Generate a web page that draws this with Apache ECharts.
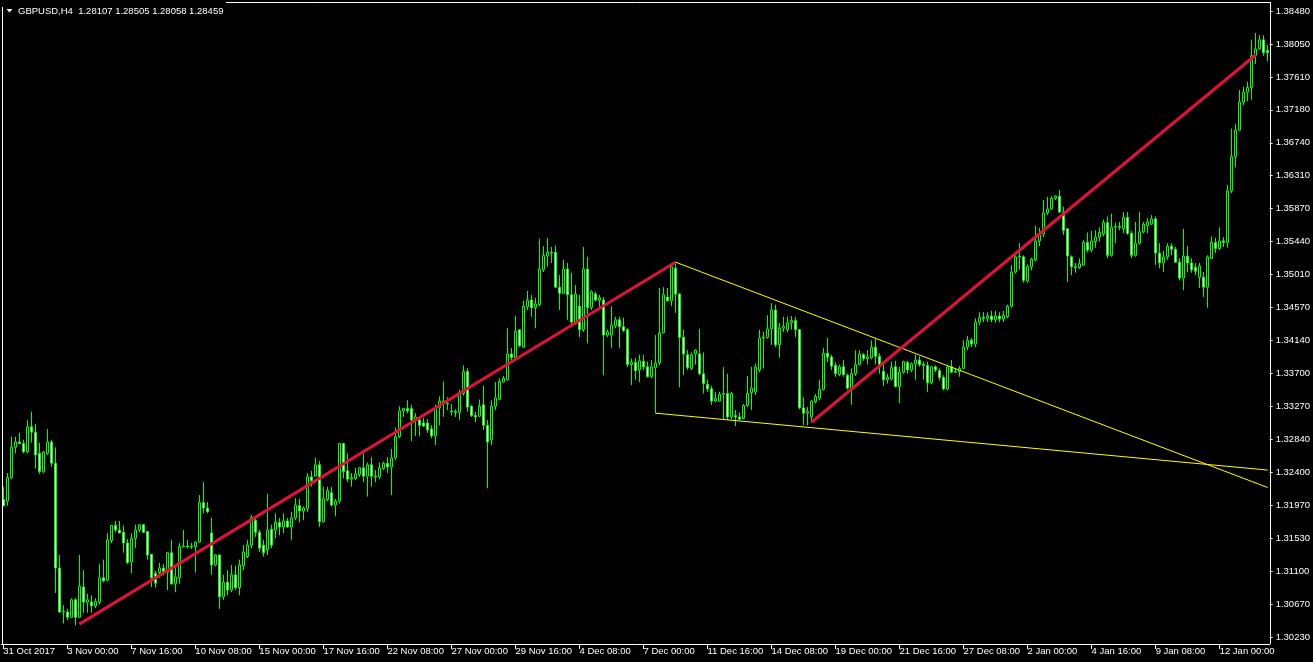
<!DOCTYPE html>
<html>
<head>
<meta charset="utf-8">
<script src="https://cdn.jsdelivr.net/npm/echarts/dist/echarts.min.js"></script>
<style>
html,body{margin:0;padding:0;background:#000;}
#chart{width:1313px;height:662px;}
</style>
</head>
<body>
<div id="chart"></div>
<script>
// ---- Data (GBPUSD H4) ----
const tradingDays = ['31 Oct','1 Nov','2 Nov','3 Nov','6 Nov','7 Nov','8 Nov','9 Nov','10 Nov','13 Nov','14 Nov','15 Nov','16 Nov','17 Nov',
  '20 Nov','21 Nov','22 Nov','23 Nov','24 Nov','27 Nov','28 Nov','29 Nov','30 Nov','1 Dec','4 Dec','5 Dec','6 Dec','7 Dec','8 Dec',
  '11 Dec','12 Dec','13 Dec','14 Dec','15 Dec','18 Dec','19 Dec','20 Dec','21 Dec','22 Dec','26 Dec','27 Dec','28 Dec','29 Dec',
  '2 Jan','3 Jan','4 Jan','5 Jan','8 Jan','9 Jan','10 Jan','11 Jan','12 Jan','15 Jan','16 Jan'];
const tickLabels = ['31 Oct 2017','3 Nov 00:00','7 Nov 16:00','10 Nov 08:00','15 Nov 00:00','17 Nov 16:00','22 Nov 08:00',
  '27 Nov 00:00','29 Nov 16:00','4 Dec 08:00','7 Dec 00:00','11 Dec 16:00','14 Dec 08:00','19 Dec 00:00','21 Dec 16:00',
  '27 Dec 08:00','2 Jan 00:00','4 Jan 16:00','9 Jan 08:00','12 Jan 00:00'];
const yLabels = ['1.30230','1.30670','1.31100','1.31530','1.31970','1.32400','1.32840','1.33270','1.33700','1.34140',
  '1.34570','1.35010','1.35440','1.35870','1.36310','1.36740','1.37180','1.37610','1.38050','1.38480'];
const titleText = 'GBPUSD,H4  1.28107 1.28505 1.28058 1.28459';

const opens = [
1.3204,1.3202,1.3233,1.3273,1.3280,1.3278,1.3267,1.3300,1.3293,1.3265,
1.3241,1.3265,1.3280,1.3252,1.3114,1.3056,1.3056,1.3049,1.3072,1.3049,
1.3089,1.3069,1.3069,1.3064,1.3069,1.3101,1.3098,1.3150,1.3170,1.3164,
1.3161,1.3147,1.3122,1.3153,1.3164,1.3171,1.3162,1.3132,1.3107,1.3108,
1.3114,1.3108,1.3134,1.3093,1.3101,1.3142,1.3143,1.3142,1.3142,1.3148,
1.3200,1.3193,1.3160,1.3118,1.3131,1.3076,1.3095,1.3085,1.3105,1.3088,
1.3117,1.3129,1.3144,1.3177,1.3161,1.3144,1.3138,1.3165,1.3164,1.3174,
1.3168,1.3176,1.3168,1.3180,1.3196,1.3189,1.3192,1.3234,1.3235,1.3250,
1.3175,1.3204,1.3213,1.3197,1.3202,1.3278,1.3242,1.3231,1.3232,1.3237,
1.3246,1.3235,1.3250,1.3235,1.3234,1.3245,1.3252,1.3247,1.3259,1.3287,
1.3321,1.3324,1.3324,1.3309,1.3309,1.3305,1.3305,1.3297,1.3288,1.3325,
1.3334,1.3330,1.3321,1.3320,1.3319,1.3344,1.3373,1.3327,1.3315,1.3314,
1.3329,1.3302,1.3283,1.3327,1.3336,1.3359,1.3362,1.3396,1.3391,1.3428,
1.3405,1.3458,1.3467,1.3457,1.3461,1.3507,1.3525,1.3530,1.3530,1.3484,
1.3476,1.3508,1.3474,1.3438,1.3459,1.3428,1.3508,1.3457,1.3475,1.3467,
1.3467,1.3421,1.3421,1.3433,1.3441,1.3432,1.3428,1.3382,1.3385,1.3375,
1.3386,1.3379,1.3366,1.3378,1.3384,1.3424,1.3471,1.3466,1.3509,1.3475,
1.3418,1.3395,1.3377,1.3396,1.3396,1.3370,1.3356,1.3350,1.3334,1.3334,
1.3343,1.3344,1.3313,1.3315,1.3313,1.3311,1.3328,1.3345,1.3346,1.3375,
1.3417,1.3418,1.3429,1.3454,1.3408,1.3430,1.3428,1.3437,1.3440,1.3428,
1.3325,1.3318,1.3313,1.3333,1.3338,1.3349,1.3397,1.3392,1.3381,1.3369,
1.3379,1.3368,1.3349,1.3370,1.3382,1.3395,1.3390,1.3391,1.3405,1.3393,
1.3373,1.3362,1.3363,1.3379,1.3353,1.3372,1.3385,1.3375,1.3383,1.3388,
1.3382,1.3381,1.3358,1.3379,1.3374,1.3365,1.3350,1.3379,1.3372,1.3373,
1.3377,1.3405,1.3414,1.3409,1.3438,1.3444,1.3443,1.3446,1.3441,1.3446,
1.3442,1.3445,1.3459,1.3504,1.3524,1.3524,1.3492,1.3511,1.3520,1.3545,
1.3554,1.3582,1.3587,1.3601,1.3604,1.3583,1.3561,1.3524,1.3511,1.3510,
1.3513,1.3543,1.3533,1.3544,1.3550,1.3554,1.3569,1.3526,1.3563,1.3564,
1.3561,1.3576,1.3555,1.3526,1.3542,1.3557,1.3565,1.3567,1.3574,1.3529,
1.3516,1.3524,1.3538,1.3534,1.3517,1.3496,1.3525,1.3516,1.3510,1.3497,
1.3497,1.3484,1.3522,1.3543,1.3535,1.3545,1.3543,1.3611,1.3656,1.3691,
1.3728,1.3741,1.3747,1.3789,1.3798,1.3810,1.3796];

const closes = [
1.3196,1.3233,1.3273,1.3280,1.3278,1.3267,1.3300,1.3293,1.3263,1.3241,
1.3267,1.3280,1.3252,1.3114,1.3056,1.3057,1.3049,1.3072,1.3049,1.3090,
1.3069,1.3072,1.3064,1.3070,1.3101,1.3097,1.3151,1.3170,1.3164,1.3160,
1.3147,1.3121,1.3153,1.3164,1.3171,1.3161,1.3131,1.3101,1.3094,1.3114,
1.3108,1.3134,1.3093,1.3102,1.3142,1.3143,1.3142,1.3143,1.3148,1.3200,
1.3193,1.3188,1.3118,1.3131,1.3076,1.3095,1.3085,1.3105,1.3088,1.3118,
1.3135,1.3144,1.3181,1.3161,1.3140,1.3134,1.3164,1.3144,1.3174,1.3168,
1.3176,1.3168,1.3180,1.3197,1.3189,1.3193,1.3234,1.3229,1.3250,1.3175,
1.3205,1.3216,1.3197,1.3202,1.3278,1.3241,1.3231,1.3233,1.3238,1.3246,
1.3235,1.3250,1.3235,1.3234,1.3246,1.3252,1.3247,1.3259,1.3287,1.3321,
1.3324,1.3321,1.3309,1.3313,1.3302,1.3301,1.3296,1.3288,1.3325,1.3334,
1.3330,1.3331,1.3320,1.3319,1.3344,1.3373,1.3326,1.3315,1.3313,1.3327,
1.3302,1.3280,1.3327,1.3338,1.3360,1.3364,1.3396,1.3391,1.3426,1.3407,
1.3459,1.3467,1.3457,1.3462,1.3508,1.3526,1.3530,1.3529,1.3484,1.3476,
1.3508,1.3474,1.3438,1.3475,1.3428,1.3508,1.3457,1.3478,1.3467,1.3470,
1.3421,1.3425,1.3434,1.3441,1.3432,1.3427,1.3382,1.3385,1.3374,1.3387,
1.3379,1.3366,1.3379,1.3384,1.3424,1.3474,1.3466,1.3511,1.3475,1.3418,
1.3396,1.3378,1.3395,1.3401,1.3370,1.3357,1.3350,1.3334,1.3337,1.3343,
1.3344,1.3313,1.3344,1.3313,1.3310,1.3328,1.3344,1.3351,1.3379,1.3417,
1.3418,1.3429,1.3454,1.3408,1.3430,1.3432,1.3437,1.3440,1.3428,1.3325,
1.3318,1.3320,1.3334,1.3340,1.3349,1.3397,1.3392,1.3380,1.3370,1.3379,
1.3369,1.3351,1.3370,1.3382,1.3396,1.3390,1.3392,1.3405,1.3393,1.3382,
1.3362,1.3365,1.3378,1.3353,1.3372,1.3386,1.3375,1.3383,1.3388,1.3382,
1.3381,1.3358,1.3379,1.3375,1.3365,1.3350,1.3379,1.3372,1.3373,1.3377,
1.3405,1.3414,1.3409,1.3438,1.3444,1.3443,1.3446,1.3441,1.3446,1.3442,
1.3447,1.3459,1.3504,1.3524,1.3525,1.3493,1.3511,1.3521,1.3545,1.3553,
1.3582,1.3587,1.3601,1.3604,1.3583,1.3559,1.3525,1.3511,1.3510,1.3515,
1.3543,1.3533,1.3545,1.3550,1.3556,1.3569,1.3526,1.3563,1.3564,1.3563,
1.3576,1.3555,1.3526,1.3542,1.3557,1.3567,1.3570,1.3574,1.3529,1.3516,
1.3524,1.3538,1.3534,1.3517,1.3496,1.3525,1.3516,1.3507,1.3505,1.3512,
1.3484,1.3524,1.3543,1.3535,1.3545,1.3543,1.3611,1.3656,1.3691,1.3728,
1.3741,1.3747,1.3789,1.3798,1.3810,1.3793,1.3793];

const lows = [
1.3195,1.3196,1.3231,1.3265,1.3277,1.3265,1.3265,1.3279,1.3245,1.3238,
1.3239,1.3263,1.3247,1.3081,1.3055,1.3041,1.3045,1.3048,1.3038,1.3048,
1.3055,1.3055,1.3055,1.3061,1.3066,1.3095,1.3097,1.3147,1.3161,1.3160,
1.3134,1.3119,1.3107,1.3140,1.3161,1.3160,1.3125,1.3089,1.3088,1.3101,
1.3104,1.3085,1.3092,1.3082,1.3093,1.3141,1.3140,1.3139,1.3108,1.3147,
1.3186,1.3186,1.3105,1.3116,1.3060,1.3072,1.3078,1.3082,1.3085,1.3078,
1.3111,1.3127,1.3140,1.3155,1.3135,1.3129,1.3131,1.3140,1.3153,1.3157,
1.3160,1.3167,1.3151,1.3177,1.3174,1.3177,1.3188,1.3221,1.3234,1.3168,
1.3174,1.3202,1.3195,1.3182,1.3199,1.3232,1.3227,1.3221,1.3230,1.3234,
1.3227,1.3208,1.3221,1.3227,1.3231,1.3243,1.3239,1.3210,1.3256,1.3285,
1.3313,1.3318,1.3281,1.3288,1.3288,1.3300,1.3292,1.3285,1.3276,1.3302,
1.3313,1.3322,1.3315,1.3313,1.3309,1.3341,1.3320,1.3313,1.3306,1.3313,
1.3296,1.3219,1.3276,1.3322,1.3335,1.3358,1.3361,1.3385,1.3388,1.3405,
1.3404,1.3454,1.3445,1.3430,1.3459,1.3504,1.3511,1.3516,1.3483,1.3454,
1.3475,1.3441,1.3432,1.3436,1.3418,1.3425,1.3410,1.3454,1.3465,1.3457,
1.3368,1.3418,1.3404,1.3430,1.3404,1.3425,1.3379,1.3355,1.3362,1.3359,
1.3375,1.3365,1.3364,1.3318,1.3381,1.3423,1.3465,1.3459,1.3450,1.3352,
1.3368,1.3375,1.3375,1.3382,1.3368,1.3344,1.3346,1.3329,1.3333,1.3333,
1.3310,1.3309,1.3310,1.3301,1.3309,1.3310,1.3326,1.3322,1.3342,1.3372,
1.3377,1.3416,1.3408,1.3405,1.3391,1.3425,1.3425,1.3428,1.3418,1.3323,
1.3302,1.3302,1.3306,1.3331,1.3335,1.3348,1.3385,1.3375,1.3366,1.3367,
1.3366,1.3349,1.3329,1.3367,1.3381,1.3387,1.3382,1.3389,1.3382,1.3370,
1.3354,1.3357,1.3361,1.3352,1.3331,1.3370,1.3370,1.3372,1.3362,1.3379,
1.3362,1.3346,1.3356,1.3372,1.3361,1.3348,1.3348,1.3371,1.3371,1.3366,
1.3376,1.3401,1.3405,1.3405,1.3434,1.3438,1.3438,1.3438,1.3437,1.3438,
1.3438,1.3443,1.3457,1.3502,1.3507,1.3490,1.3490,1.3506,1.3518,1.3538,
1.3550,1.3579,1.3586,1.3599,1.3582,1.3553,1.3491,1.3500,1.3503,1.3508,
1.3512,1.3530,1.3530,1.3536,1.3544,1.3551,1.3522,1.3524,1.3542,1.3559,
1.3555,1.3553,1.3522,1.3524,1.3540,1.3555,1.3555,1.3566,1.3513,1.3509,
1.3504,1.3520,1.3526,1.3516,1.3493,1.3480,1.3504,1.3503,1.3500,1.3483,
1.3471,1.3457,1.3521,1.3529,1.3533,1.3537,1.3536,1.3608,1.3642,1.3690,
1.3724,1.3729,1.3731,1.3778,1.3797,1.3789,1.3782];

const highs = [
1.3221,1.3239,1.3287,1.3287,1.3292,1.3283,1.3309,1.3320,1.3304,1.3279,
1.3267,1.3297,1.3283,1.3273,1.3131,1.3065,1.3060,1.3074,1.3074,1.3131,
1.3111,1.3080,1.3078,1.3074,1.3119,1.3125,1.3160,1.3170,1.3176,1.3176,
1.3170,1.3152,1.3160,1.3171,1.3172,1.3172,1.3162,1.3132,1.3110,1.3121,
1.3119,1.3135,1.3151,1.3115,1.3147,1.3164,1.3151,1.3147,1.3149,1.3210,
1.3227,1.3201,1.3180,1.3132,1.3132,1.3105,1.3111,1.3118,1.3117,1.3125,
1.3144,1.3151,1.3184,1.3181,1.3164,1.3151,1.3212,1.3171,1.3186,1.3180,
1.3186,1.3180,1.3188,1.3206,1.3205,1.3195,1.3239,1.3242,1.3259,1.3255,
1.3221,1.3221,1.3221,1.3205,1.3278,1.3279,1.3265,1.3239,1.3246,1.3247,
1.3265,1.3253,1.3260,1.3243,1.3253,1.3254,1.3260,1.3271,1.3299,1.3327,
1.3325,1.3335,1.3329,1.3318,1.3313,1.3312,1.3310,1.3302,1.3329,1.3340,
1.3360,1.3339,1.3330,1.3323,1.3349,1.3381,1.3377,1.3329,1.3320,1.3336,
1.3354,1.3309,1.3335,1.3359,1.3364,1.3367,1.3430,1.3404,1.3446,1.3428,
1.3466,1.3479,1.3474,1.3470,1.3548,1.3538,1.3549,1.3537,1.3539,1.3500,
1.3520,1.3516,1.3503,1.3487,1.3474,1.3537,1.3524,1.3480,1.3478,1.3474,
1.3471,1.3428,1.3459,1.3445,1.3445,1.3444,1.3430,1.3390,1.3391,1.3395,
1.3395,1.3386,1.3388,1.3421,1.3483,1.3484,1.3483,1.3514,1.3517,1.3476,
1.3428,1.3401,1.3398,1.3402,1.3429,1.3398,1.3362,1.3354,1.3346,1.3346,
1.3379,1.3370,1.3346,1.3322,1.3319,1.3330,1.3367,1.3379,1.3383,1.3428,
1.3425,1.3447,1.3463,1.3461,1.3437,1.3445,1.3445,1.3446,1.3445,1.3429,
1.3339,1.3326,1.3335,1.3343,1.3362,1.3404,1.3417,1.3395,1.3385,1.3382,
1.3388,1.3370,1.3377,1.3401,1.3401,1.3397,1.3401,1.3414,1.3417,1.3397,
1.3386,1.3370,1.3386,1.3387,1.3379,1.3387,1.3387,1.3385,1.3395,1.3393,
1.3386,1.3386,1.3380,1.3381,1.3377,1.3368,1.3381,1.3388,1.3377,1.3380,
1.3414,1.3420,1.3417,1.3443,1.3451,1.3451,1.3451,1.3453,1.3453,1.3451,
1.3453,1.3461,1.3513,1.3529,1.3542,1.3526,1.3514,1.3523,1.3565,1.3562,
1.3599,1.3603,1.3604,1.3605,1.3612,1.3590,1.3562,1.3526,1.3516,1.3522,
1.3546,1.3556,1.3558,1.3559,1.3563,1.3573,1.3577,1.3581,1.3569,1.3570,
1.3583,1.3583,1.3558,1.3570,1.3583,1.3570,1.3575,1.3579,1.3577,1.3542,
1.3532,1.3542,1.3542,1.3537,1.3522,1.3561,1.3538,1.3522,1.3516,1.3516,
1.3504,1.3526,1.3551,1.3549,1.3563,1.3550,1.3619,1.3693,1.3699,1.3744,
1.3748,1.3755,1.3810,1.3819,1.3816,1.3816,1.3803];

// trend lines: [candle index, price]
const redLine1 = [[19, 1.3040], [168, 1.3517]];
const redLine2 = [[202, 1.3306], [313, 1.3790]];
const yellowLine1 = [[168, 1.3517], [316, 1.3220]];
const yellowLine2 = [[163, 1.3318], [316, 1.3243]];

// ---- Build categories (H4 bars, first day starts 08:00) ----
const hours = ['00:00','04:00','08:00','12:00','16:00','20:00'];
const categories = [];
tradingDays.forEach((d, di) => {
  hours.forEach((h, hi) => {
    if (di === 0 && hi < 2) return;
    categories.push(d + ' ' + h);
  });
});
categories.length = opens.length;

const candleData = opens.map((o, i) => [o, closes[i], lows[i], highs[i]]);

const yMin = 1.30230, yMax = 1.38480;
const yStep = (yMax - yMin) / 19;
const FONT = 'Liberation Sans';

const chart = echarts.init(document.getElementById('chart'), null, {renderer: 'canvas'});
chart.setOption({
  backgroundColor: '#000',
  animation: false,
  grid: {left: 1.3, right: 42.7, top: 11, bottom: 25},
  xAxis: {
    type: 'category',
    data: categories,
    boundaryGap: true,
    offset: 7,
    axisLine: {show: true, lineStyle: {color: '#fff', width: 1}},
    axisTick: {show: true, interval: 15, alignWithLabel: true, length: 5, lineStyle: {color: '#fff'}},
    axisLabel: {
      interval: 15, align: 'left', margin: 2, color: '#fff', fontFamily: FONT, fontSize: 9.5,
      formatter: (v, i) => tickLabels[Math.round(i / 16)] || ''
    },
    splitLine: {show: false}
  },
  yAxis: {
    type: 'value', position: 'right', min: yMin, max: yMax, interval: yStep,
    axisLine: {show: false},
    axisTick: {show: true, length: 3, lineStyle: {color: '#fff'}},
    axisLabel: {
      color: '#fff', margin: 6, fontFamily: FONT, fontSize: 9.5,
      formatter: v => yLabels[Math.round((v - yMin) / yStep)] || ''
    },
    splitLine: {show: false}
  },
  series: [
    {
      type: 'candlestick',
      data: candleData,
      barWidth: 2,
      clip: false,
      z: 2,
      itemStyle: {
        color: '#000000', color0: '#ffffff',
        borderColor: '#00ff00', borderColor0: '#00ff00', borderColorDoji: '#00ff00',
        borderWidth: 1
      }
    },
    {type: 'line', data: yellowLine1, symbol: 'none', z: 3, silent: true,
     lineStyle: {color: '#ffff00', width: 1}},
    {type: 'line', data: yellowLine2, symbol: 'none', z: 3, silent: true,
     lineStyle: {color: '#ffff00', width: 1}},
    {type: 'line', data: redLine1, symbol: 'none', z: 4, silent: true,
     lineStyle: {color: '#dc143c', width: 3}},
    {type: 'line', data: redLine2, symbol: 'none', z: 4, silent: true,
     lineStyle: {color: '#dc143c', width: 3}}
  ],
  graphic: [
    {type: 'line', silent: true, z: 10, shape: {x1: 2.5, y1: 2, x2: 2.5, y2: 644}, style: {stroke: '#fff', lineWidth: 1}},
    {type: 'line', silent: true, z: 10, shape: {x1: 1270.5, y1: 2, x2: 1270.5, y2: 644}, style: {stroke: '#fff', lineWidth: 1}},
    {type: 'line', silent: true, z: 10, shape: {x1: 2, y1: 2.5, x2: 1271, y2: 2.5}, style: {stroke: '#fff', lineWidth: 1}},
    {type: 'rect', silent: true, z: 11, shape: {x: 0, y: 0, width: 226, height: 7}, style: {fill: '#000'}},
    {type: 'polygon', silent: true, z: 12, shape: {points: [[6.5, 9], [12.5, 9], [9.5, 12.5]]}, style: {fill: '#fff'}},
    {type: 'text', silent: true, z: 12, style: {text: titleText, x: 18, y: 11, verticalAlign: 'middle',
      fill: '#fff', font: '9.5px "Liberation Sans"'}}
  ]
});
</script>
</body>
</html>
